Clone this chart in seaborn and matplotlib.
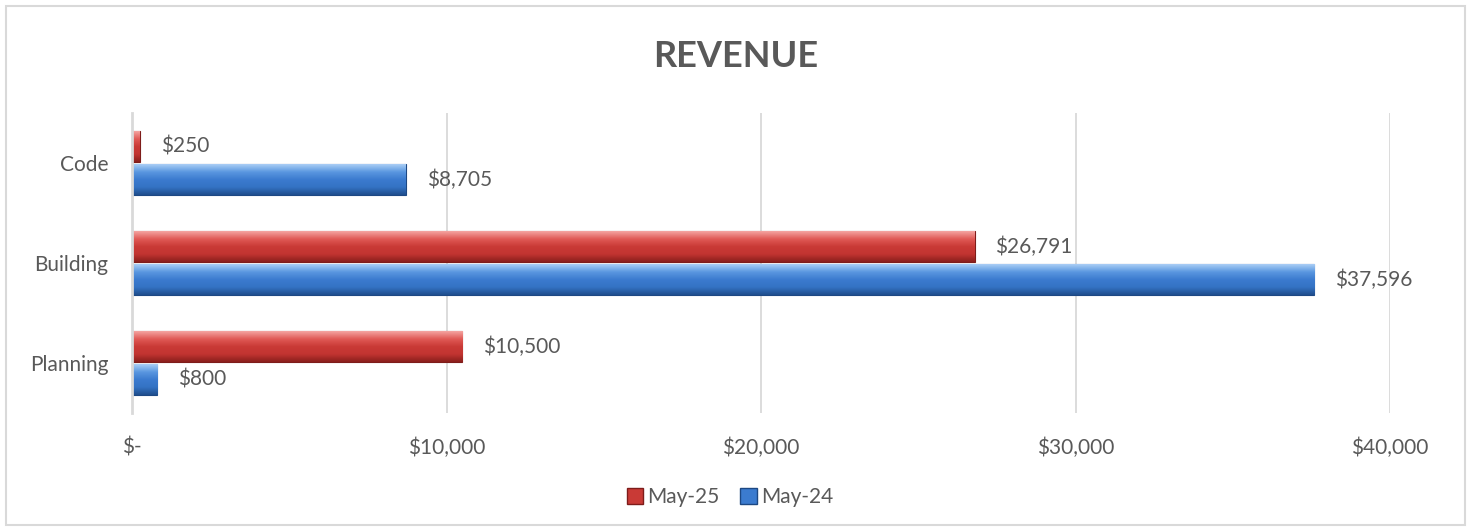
import numpy as np
import pandas as pd
import seaborn as sns
import matplotlib.pyplot as plt
from matplotlib.colors import LinearSegmentedColormap
from matplotlib.patches import Patch, Rectangle
from matplotlib.ticker import FuncFormatter

departments = ['Code', 'Building', 'Planning']
periods = ['May-25', 'May-24']
may25 = [250, 26791, 10500]
may24 = [8705, 37596, 800]
x_ticks = [0, 10000, 20000, 30000, 40000]

df = pd.DataFrame({
    'dept': departments * 2,
    'period': [periods[0]] * 3 + [periods[1]] * 3,
    'revenue': may25 + may24,
})

# bevel-ish shading: light top edge, mid body, dark bottom
shades = {
    'May-25': ['#F4A3A0', '#E05A56', '#C93A36', '#C23431', '#8A1F1C'],
    'May-24': ['#A9CDF5', '#5A97E0', '#3B7BCF', '#3473C4', '#1F4E8E'],
}
colors = {'May-25': '#C93A36', 'May-24': '#3B7BCF'}
edges = {'May-25': '#7E1C1A', 'May-24': '#1D4883'}
text_color = '#595959'
grid_color = '#D9D9D9'

sns.set_theme(style='white')
plt.rcParams['font.family'] = ['Lato', 'DejaVu Sans']

fig = plt.figure(figsize=(14.73, 5.31), dpi=100)
ax = fig.add_axes([132 / 1473, 1 - 413 / 531, (1390 - 132) / 1473, 300 / 531])

sns.barplot(data=df, x='revenue', y='dept', hue='period', order=departments,
            hue_order=periods, palette=colors, orient='h', width=0.66, gap=0.09,
            legend=False, ax=ax)

# gradient fill clipped to each bar
for container, period in zip(ax.containers, periods):
    cmap = LinearSegmentedColormap.from_list(period, shades[period])
    for bar in container:
        bar.set_edgecolor(edges[period])
        bar.set_linewidth(0.8)
        x0, y0 = bar.get_x(), bar.get_y()
        w, h = bar.get_width(), bar.get_height()
        grad = np.linspace(0, 1, 64).reshape(-1, 1)
        im = ax.imshow(grad, cmap=cmap, aspect='auto', origin='upper',
                       extent=(x0, x0 + w, y0 + h, y0), zorder=1.5)
        im.set_clip_path(bar)
    ax.bar_label(container, fmt=lambda v: f'${v:,.0f}', padding=15,
                 fontsize=15, color=text_color)

ax.set_xlim(0, 40000)
ax.set_ylim(2.5, -0.5)
ax.set_xticks(x_ticks)
ax.xaxis.set_major_formatter(FuncFormatter(lambda v, p: '$-' if v == 0 else f'${v:,.0f}'))
ax.grid(True, axis='x', color=grid_color, linewidth=1.3)
ax.grid(False, axis='y')
ax.set_axisbelow(True)
for s in ['top', 'right', 'bottom']:
    ax.spines[s].set_visible(False)
ax.spines['left'].set_color(grid_color)
ax.spines['left'].set_linewidth(2)
ax.tick_params(axis='x', length=0, pad=18, labelsize=15, labelcolor=text_color)
ax.tick_params(axis='y', length=0, pad=17, labelsize=15, labelcolor=text_color)
ax.set_xlabel('')
ax.set_ylabel('')

fig.suptitle('REVENUE', x=736 / 1473, y=1 - 40 / 531, va='top', fontsize=26,
             fontweight='bold', color=text_color)

handles = [Patch(facecolor=colors[p], edgecolor=edges[p], label=p) for p in periods]
fig.legend(handles=handles, loc='center', bbox_to_anchor=(730 / 1473, 1 - 497 / 531),
           ncol=2, frameon=False, fontsize=15, labelcolor=text_color,
           handlelength=0.8, handleheight=0.8, handletextpad=0.2, columnspacing=1.0)

fig.patches.append(Rectangle((6 / 1473, 6 / 531), 1459 / 1473, 519 / 531,
                             transform=fig.transFigure, fill=False,
                             edgecolor=grid_color, linewidth=1.5))

fig.savefig('out.png', dpi=100)
